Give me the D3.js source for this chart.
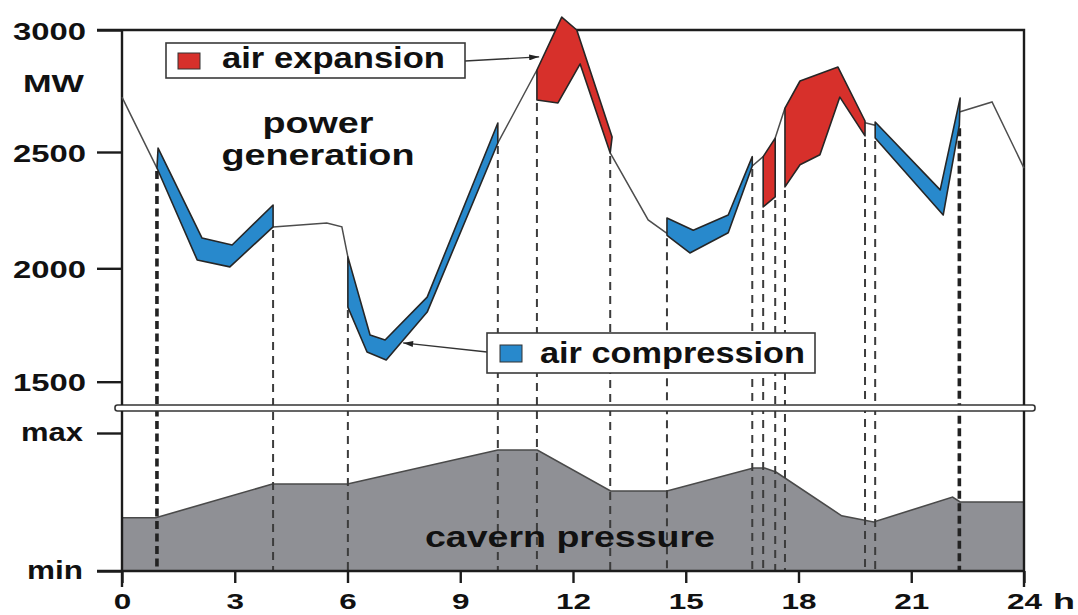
<!DOCTYPE html>
<html>
<head>
<meta charset="utf-8">
<script src="https://cdn.jsdelivr.net/npm/d3@7"></script>
<style>
  html, body { margin: 0; padding: 0; background: #fff; }
  svg { display: block; }
  text { font-family: "Liberation Sans", Arial, Helvetica, sans-serif; font-weight: bold; fill: #111; }
</style>
</head>
<body>
<svg id="chart" width="1078" height="615"></svg>
<script>
// Daily operation of a compressed-air energy storage plant over 24 hours

const hourTicks = [0, 3, 6, 9, 12, 15, 18, 21, 24];
const powerTicks = [1500, 2000, 2500, 3000];
const pressureTicks = [0, 1];
const pressureTickLabels = ["min", "max"];

// Power generation in MW; null marks stretches covered by a storage band
const generation = [
  [0, 2725], [0.93, 2431], null,
  [4.02, 2178], [5.45, 2195], [5.85, 2178], [6.01, 2049], null,
  [10.0, 2537], [11.04, 2836], null,
  [12.99, 2496], [14.0, 2208], [14.5, 2150], null,
  [16.77, 2440], [17.06, 2480], null,
  [17.38, 2557], [17.64, 2680], null,
  [19.77, 2620], [20.04, 2610], null,
  [22.28, 2664], [23.15, 2705], [24, 2431]
];

// Air compression periods: upper and lower band edges [hour, MW]
const compression = [
  { upper: [[0.96, 2516], [2.13, 2130], [2.93, 2100], [4.02, 2272]],
    lower: [[0.93, 2431], [2.0, 2036], [2.87, 2006], [4.02, 2178]] },
  { upper: [[6.01, 2049], [6.6, 1706], [7.0, 1684], [8.12, 1873], [10.0, 2619]],
    lower: [[6.01, 1829], [6.52, 1631], [7.03, 1596], [8.12, 1807], [10.0, 2537]] },
  { upper: [[14.5, 2216], [15.2, 2164], [16.13, 2229], [16.77, 2480]],
    lower: [[14.5, 2142], [15.11, 2066], [16.13, 2153], [16.77, 2440]] },
  { upper: [[20.04, 2623], [21.77, 2337], [22.3, 2721]],
    lower: [[20.04, 2557], [21.85, 2229], [22.28, 2610]] }
];

// Air expansion periods: upper and lower band edges [hour, MW]
const expansion = [
  { upper: [[11.04, 2836], [11.7, 3053], [12.1, 3000], [13.04, 2561]],
    lower: [[11.04, 2713], [11.6, 2701], [12.19, 2861], [12.99, 2496]] },
  { upper: [[17.06, 2480], [17.38, 2557]],
    lower: [[17.06, 2264], [17.38, 2307]] },
  { upper: [[17.64, 2680], [18.04, 2791], [19.05, 2848], [19.77, 2627]],
    lower: [[17.64, 2350], [18.04, 2445], [18.57, 2488], [19.1, 2725], [19.77, 2566]] }
];

// Cavern pressure between min (0) and max (1)
const pressureHours = [0, 0.9, 4.0, 6.0, 10.0, 11.05, 13.0, 14.5, 16.8, 17.1, 17.4, 19.15, 20.0, 22.1, 22.3, 24];
const pressureLevel = [0.386, 0.386, 0.63, 0.63, 0.877, 0.877, 0.58, 0.58, 0.746, 0.746, 0.717, 0.40, 0.355, 0.536, 0.50, 0.50];

const BLUE = "#2889cc";
const RED = "#d7302b";
const INK = "#1c1c1c";

const svg = d3.select("#chart");

const x = d3.scaleLinear().domain([0, 24]).range([122, 1024]);
const yP = d3.scaleLinear().domain(powerTicks).range([381.7, 268.3, 152, 30]);
const yQ = d3.scaleLinear().domain([0, 1]).range([571, 433]);

const upperBottom = 405, lowerTop = 411, axisY = yQ(0);

// arrow marker
svg.append("defs").append("marker")
  .attr("id", "arrowhead")
  .attr("viewBox", "0 0 10 6")
  .attr("refX", 10).attr("refY", 3)
  .attr("markerWidth", 11).attr("markerHeight", 6)
  .attr("markerUnits", "userSpaceOnUse")
  .attr("orient", "auto")
  .append("path").attr("d", "M0,0L10,3L0,6Z").attr("fill", "#222");

// ---- cavern pressure area ----
const pressure = pressureHours.map((h, i) => [h, pressureLevel[i]]);
svg.append("path")
  .datum(pressure)
  .attr("fill", "#8f9095")
  .attr("d", d3.area().x(d => x(d[0])).y0(axisY).y1(d => yQ(d[1])));
svg.append("path")
  .datum(pressure)
  .attr("fill", "none")
  .attr("stroke", "#4a4a4a")
  .attr("stroke-width", 1.6)
  .attr("d", d3.line().x(d => x(d[0])).y(d => yQ(d[1])));

// ---- dashed markers at the start and end of every storage period ----
const edges = [];
[...compression, ...expansion].forEach(b => {
  edges.push(b.lower[0]);
  edges.push(b.lower[b.lower.length - 1]);
});
edges.sort((a, b) => a[0] - b[0]);
edges.forEach((e, i) => {
  const heavy = i === 0 || i === edges.length - 1;
  svg.append("line")
    .attr("x1", x(e[0])).attr("x2", x(e[0]))
    .attr("y1", yP(e[1]) + 3).attr("y2", axisY)
    .attr("stroke", heavy ? "#222" : "#3c3c3c")
    .attr("stroke-width", heavy ? 3.6 : 2)
    .attr("stroke-dasharray", heavy ? "8,4.5" : "8,6");
});

svg.append("text")
  .attr("x", 570).attr("y", 547)
  .attr("text-anchor", "middle")
  .attr("font-size", 29)
  .attr("textLength", 290).attr("lengthAdjust", "spacingAndGlyphs")
  .text("cavern pressure");

// ---- axis break ----
svg.append("rect")
  .attr("x", 115).attr("y", upperBottom).attr("width", 920).attr("height", lowerTop - upperBottom)
  .attr("rx", 2.5)
  .attr("fill", "#fff").attr("stroke", "#333").attr("stroke-width", 1.6);

// ---- frames ----
const frame = svg.append("g").attr("fill", "none").attr("stroke", INK).attr("stroke-width", 2.4);
frame.append("path").attr("d", `M${x(0) - 25},${yP(3000)}H${x(24)}V${upperBottom}`);
frame.append("path").attr("d", `M${x(0)},${yP(3000)}V${upperBottom}`);
frame.append("path").attr("d", `M${x(0)},${lowerTop}V${axisY + 16}`);
frame.append("path").attr("d", `M${x(24)},${lowerTop}V${axisY + 16}`);
frame.append("path").attr("d", `M${x(0) - 25},${axisY}H${x(24)}`);

// ---- axes ----
const powerAxis = svg.append("g")
  .attr("transform", `translate(${x(0)},0)`)
  .call(d3.axisLeft(yP).tickValues(powerTicks).tickSize(25).tickPadding(11).tickFormat(d3.format("d")));
powerAxis.select(".domain").remove();
powerAxis.selectAll(".tick line").attr("stroke", INK).attr("stroke-width", 2.4);
powerAxis.selectAll(".tick text")
  .attr("font-size", 24).attr("dy", 9).attr("fill", "#111")
  .attr("font-family", null)
  .attr("textLength", 73).attr("lengthAdjust", "spacingAndGlyphs");

const pressureAxis = svg.append("g")
  .attr("transform", `translate(${x(0)},0)`)
  .call(d3.axisLeft(yQ).tickValues(pressureTicks).tickSize(25).tickPadding(14)
    .tickFormat((d, i) => pressureTickLabels[i]));
pressureAxis.select(".domain").remove();
pressureAxis.selectAll(".tick line").attr("stroke", INK).attr("stroke-width", 2.4);
pressureAxis.selectAll(".tick text")
  .attr("font-size", 26).attr("dy", 7).attr("fill", "#111")
  .attr("font-family", null)
  .attr("textLength", (d) => d === 1 ? 62 : 56).attr("lengthAdjust", "spacingAndGlyphs");

const hourAxis = svg.append("g")
  .attr("transform", `translate(0,${axisY})`)
  .call(d3.axisBottom(x).tickValues(hourTicks).tickSize(12).tickFormat(d3.format("d")));
hourAxis.select(".domain").remove();
hourAxis.selectAll(".tick line").attr("stroke", INK).attr("stroke-width", 2.4);
hourAxis.selectAll(".tick text")
  .attr("font-size", 22).attr("y", 38).attr("dy", 0).attr("fill", "#111")
  .attr("font-family", null)
  .attr("textLength", d => String(d).length * 17.5).attr("lengthAdjust", "spacingAndGlyphs");

svg.append("text").attr("x", 1053).attr("y", 609).attr("font-size", 22)
  .attr("textLength", 22).attr("lengthAdjust", "spacingAndGlyphs").text("h");
svg.append("text").attr("x", 84).attr("y", 92).attr("text-anchor", "end").attr("font-size", 24)
  .attr("textLength", 61).attr("lengthAdjust", "spacingAndGlyphs").text("MW");

// ---- power generation curve ----
svg.append("path")
  .datum(generation)
  .attr("fill", "none")
  .attr("stroke", "#4d4d4d")
  .attr("stroke-width", 1.5)
  .attr("d", d3.line().defined(d => d !== null).x(d => x(d[0])).y(d => yP(d[1])));

// ---- storage bands ----
const bandPath = b => {
  const pts = b.upper.concat(b.lower.slice().reverse());
  return d3.line().x(d => x(d[0])).y(d => yP(d[1]))(pts) + "Z";
};
svg.append("g").selectAll("path").data(compression).join("path")
  .attr("d", bandPath)
  .attr("fill", BLUE).attr("stroke", "#262626").attr("stroke-width", 1.6)
  .attr("stroke-linejoin", "round");
svg.append("g").selectAll("path").data(expansion).join("path")
  .attr("d", bandPath)
  .attr("fill", RED).attr("stroke", "#262626").attr("stroke-width", 1.6)
  .attr("stroke-linejoin", "round");

// ---- labels ----
svg.append("text").attr("x", 318).attr("y", 133).attr("text-anchor", "middle").attr("font-size", 29)
  .attr("textLength", 111).attr("lengthAdjust", "spacingAndGlyphs").text("power");
svg.append("text").attr("x", 318).attr("y", 165).attr("text-anchor", "middle").attr("font-size", 29)
  .attr("textLength", 193).attr("lengthAdjust", "spacingAndGlyphs").text("generation");

// legend: air expansion
svg.append("line")
  .attr("x1", 465).attr("y1", 61).attr("x2", x(11.1)).attr("y2", yP(2890))
  .attr("stroke", "#333").attr("stroke-width", 1.3).attr("marker-end", "url(#arrowhead)");
svg.append("rect").attr("x", 166).attr("y", 43).attr("width", 299).attr("height", 35)
  .attr("fill", "#fff").attr("stroke", "#3a3a3a").attr("stroke-width", 1.6);
svg.append("rect").attr("x", 178).attr("y", 53).attr("width", 22).attr("height", 16)
  .attr("fill", RED).attr("stroke", "#333").attr("stroke-width", 1);
svg.append("text").attr("x", 222).attr("y", 68).attr("font-size", 29)
  .attr("textLength", 223).attr("lengthAdjust", "spacingAndGlyphs").text("air expansion");

// legend: air compression
svg.append("line")
  .attr("x1", 487).attr("y1", 352).attr("x2", x(7.48)).attr("y2", yP(1671))
  .attr("stroke", "#333").attr("stroke-width", 1.3).attr("marker-end", "url(#arrowhead)");
svg.append("rect").attr("x", 487).attr("y", 333).attr("width", 328).attr("height", 40)
  .attr("fill", "#fff").attr("stroke", "#3a3a3a").attr("stroke-width", 1.6);
svg.append("rect").attr("x", 500).attr("y", 345).attr("width", 22).attr("height", 17)
  .attr("fill", BLUE).attr("stroke", "#333").attr("stroke-width", 1);
svg.append("text").attr("x", 540).attr("y", 363).attr("font-size", 29)
  .attr("textLength", 265).attr("lengthAdjust", "spacingAndGlyphs").text("air compression");
</script>
</body>
</html>
